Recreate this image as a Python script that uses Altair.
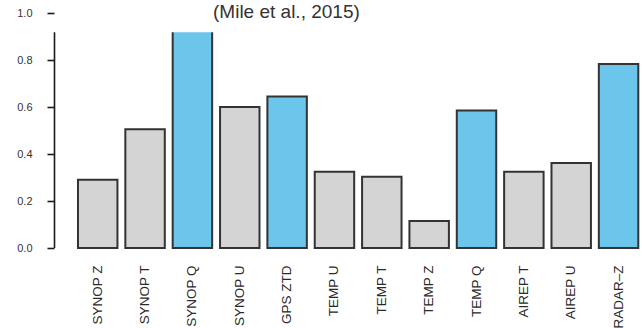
import altair as alt
import pandas as pd

# ---- data ----
categories = ["SYNOP Z", "SYNOP T", "SYNOP Q", "SYNOP U", "GPS ZTD", "TEMP U",
              "TEMP T", "TEMP Z", "TEMP Q", "AIREP T", "AIREP U", "RADAR–Z"]
values = [0.29, 0.505, 0.95, 0.60, 0.645, 0.325, 0.303, 0.115, 0.585, 0.325, 0.362, 0.783]
highlight = [False, False, True, False, True, False, False, False, True, False, False, True]
y_ticks = [0.0, 0.2, 0.4, 0.6, 0.8, 1.0]
# the top strip of the figure is cut off above this level
visible_top = 0.918
y_min = 0.0
y_max = 1.0

df = pd.DataFrame({"cat": categories, "val": values, "hl": highlight})
clip_df = pd.DataFrame({"lo": [visible_top], "hi": [y_max]})
axis_df = pd.DataFrame({"lo": [y_min], "hi": [visible_top]})

GRAY = "#d4d4d4"
BLUE = "#6cc5ea"
FONT = "Liberation Sans"

x_enc = alt.X("cat:N", sort=categories,
              scale=alt.Scale(paddingInner=1/6, paddingOuter=0.2925, align=0.866),
              axis=alt.Axis(title=None, labelAngle=270, ticks=False, domain=False,
                            labelPadding=17, labelFontSize=13.5, labelFont=FONT,
                            labelColor="#2a2a2a", labelOverlap=False))
y_scale = alt.Scale(domain=[y_min, y_max], nice=False, zero=True)

bars = alt.Chart(df).mark_bar(stroke="#333333", strokeWidth=2).encode(
    x=x_enc,
    y=alt.Y("val:Q", scale=y_scale,
            axis=alt.Axis(title=None, values=y_ticks, format=".1f", grid=False,
                          domain=False,
                          ticks=True, tickColor="#1a1a1a", tickWidth=1.6, tickSize=7,
                          labelPadding=15, labelFontSize=11, labelFont=FONT,
                          labelColor="#333333", zindex=1)),
    color=alt.Color("hl:N", scale=alt.Scale(domain=[False, True], range=[GRAY, BLUE]),
                    legend=None),
)

cover = alt.Chart(clip_df).mark_rect(color="white").encode(
    y=alt.Y("lo:Q", scale=y_scale),
    y2="hi:Q",
)

axis_line = alt.Chart(axis_df).mark_rule(color="#1a1a1a", strokeWidth=1.6).encode(
    x=alt.value(0.5),
    y=alt.Y("lo:Q", scale=y_scale),
    y2="hi:Q",
)

chart = alt.layer(bars, cover, axis_line).properties(
    width=588,
    height=235,
    title=alt.Title("(Mile et al., 2015)", font=FONT, fontSize=19,
                    fontWeight="normal",
                    color="#333333", anchor="start", frame="group", dx=159,
                    baseline="alphabetic", offset=0, dy=30),
).configure(
    autosize=alt.AutoSizeParams(type="none"),
    padding={"left": 54, "top": 13, "right": 0, "bottom": 80},
    background="white",
).configure_view(stroke=None)

chart.save("out.html", embed_options={"renderer": "svg", "actions": False})
